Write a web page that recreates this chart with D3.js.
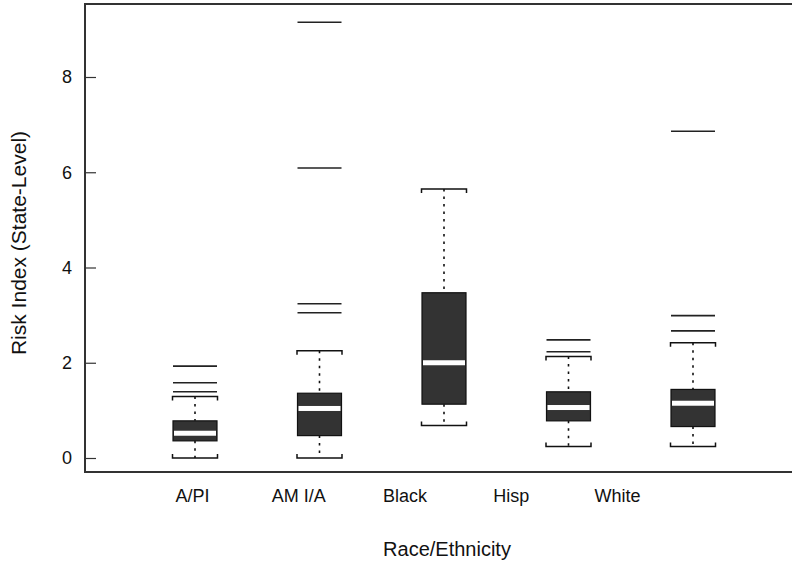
<!DOCTYPE html>
<html>
<head>
<meta charset="utf-8">
<script src="https://cdn.jsdelivr.net/npm/d3@7"></script>
<style>
  body { margin: 0; background: #fff; }
  svg { display: block; font-family: "Liberation Sans", Arial, sans-serif; }
</style>
</head>
<body>
<svg></svg>
<script>
let width = 792;
let height = 564;

// data
let groups = ['A/PI', 'AM I/A', 'Black', 'Hisp', 'White'];
let lowerCaps = [0.0, 0.0, 0.68, 0.24, 0.24];
let q1 = [0.36, 0.47, 1.13, 0.78, 0.66];
let medians = [0.52, 1.04, 2.00, 1.06, 1.15];
let q3 = [0.78, 1.36, 3.47, 1.39, 1.44];
let upperCaps = [1.29, 2.25, 5.65, 2.13, 2.42];
let outliers = [
    [1.39, 1.58, 1.93],
    [3.05, 3.24, 6.09, 9.15],
    [],
    [2.23, 2.48],
    [2.67, 2.99, 6.86]
];
let yTicks = [0, 2, 4, 6, 8];

let svg = d3.select('svg')
    .attr('width', width)
    .attr('height', height);

let frame = { left: 85, top: 4, right: 792, bottom: 472 };

let y = d3.scaleLinear()
    .domain([0, 8])
    .range([458, 77]);

// boxes and tick labels sit on different spacings in the reference
let xBox = d3.scalePoint()
    .domain(groups)
    .range([195, 693]);
let xLabel = d3.scalePoint()
    .domain(groups)
    .range([192, 617]);

let boxW = 44;
let capW = 45;

let data = groups.map((g, i) => ({
    name: g,
    lo: lowerCaps[i],
    q1: q1[i],
    med: medians[i],
    q3: q3[i],
    hi: upperCaps[i],
    out: outliers[i]
}));

// frame: left, top and bottom lines
let frameColor = '#333';
svg.append('path')
    .attr('d', `M${frame.right},${frame.top}H${frame.left}V${frame.bottom}H${frame.right}`)
    .attr('fill', 'none')
    .attr('stroke', frameColor)
    .attr('stroke-width', 2);

// y axis with inward ticks
let yAxis = svg.append('g')
    .attr('transform', `translate(${frame.left},0)`)
    .call(d3.axisLeft(y).tickValues(yTicks).tickSize(-11).tickPadding(13).tickFormat(d3.format('d')));
yAxis.select('.domain').remove();
yAxis.selectAll('line').attr('stroke', frameColor).attr('stroke-width', 1.2);
yAxis.selectAll('text')
    .attr('fill', '#111')
    .style('font-size', '18px');

// x tick labels (no ticks)
let xAxis = svg.append('g')
    .attr('transform', `translate(0,${frame.bottom})`)
    .call(d3.axisBottom(xLabel).tickSize(0).tickPadding(17));
xAxis.select('.domain').remove();
xAxis.selectAll('text')
    .attr('fill', '#111')
    .style('font-size', '18px');

// axis titles
svg.append('text')
    .attr('transform', `translate(26,243) rotate(-90)`)
    .attr('text-anchor', 'middle')
    .attr('fill', '#111')
    .style('font-size', '21px')
    .text('Risk Index (State-Level)');

svg.append('text')
    .attr('x', 447)
    .attr('y', 556)
    .attr('text-anchor', 'middle')
    .attr('fill', '#111')
    .style('font-size', '20px')
    .text('Race/Ethnicity');

let boxes = svg.selectAll('g.box')
    .data(data)
    .enter()
    .append('g')
    .classed('box', true)
    .attr('transform', d => `translate(${xBox(d.name)},0)`);

// dotted whiskers
boxes.append('line')
    .attr('x1', 0).attr('x2', 0)
    .attr('y1', d => y(d.hi)).attr('y2', d => y(d.q3))
    .attr('stroke', '#111').attr('stroke-width', 1.6)
    .attr('stroke-dasharray', '2.5,5');
boxes.append('line')
    .attr('x1', 0).attr('x2', 0)
    .attr('y1', d => y(d.q1)).attr('y2', d => y(d.lo))
    .attr('stroke', '#111').attr('stroke-width', 1.6)
    .attr('stroke-dasharray', '2.5,5');

// bracket caps
boxes.append('path')
    .attr('d', d => `M${-capW/2},${y(d.hi) + 4}V${y(d.hi)}H${capW/2}V${y(d.hi) + 4}`)
    .attr('fill', 'none').attr('stroke', '#111').attr('stroke-width', 1.5);
boxes.append('path')
    .attr('d', d => `M${-capW/2},${y(d.lo) - 4}V${y(d.lo)}H${capW/2}V${y(d.lo) - 4}`)
    .attr('fill', 'none').attr('stroke', '#111').attr('stroke-width', 1.5);

// box
boxes.append('rect')
    .attr('x', -boxW/2)
    .attr('width', boxW)
    .attr('y', d => y(d.q3))
    .attr('height', d => y(d.q1) - y(d.q3))
    .attr('fill', '#333')
    .attr('stroke', '#111')
    .attr('stroke-width', 1.2);

// median band
boxes.append('rect')
    .attr('x', -boxW/2 + 1)
    .attr('width', boxW - 2)
    .attr('y', d => y(d.med) - 2.5)
    .attr('height', 5)
    .attr('fill', '#fff');

// outliers drawn as horizontal lines
boxes.selectAll('line.out')
    .data(d => d.out)
    .enter()
    .append('line')
    .classed('out', true)
    .attr('x1', -boxW/2).attr('x2', boxW/2)
    .attr('y1', d => y(d)).attr('y2', d => y(d))
    .attr('stroke', '#222')
    .attr('stroke-width', 1.6);
</script>
</body>
</html>
